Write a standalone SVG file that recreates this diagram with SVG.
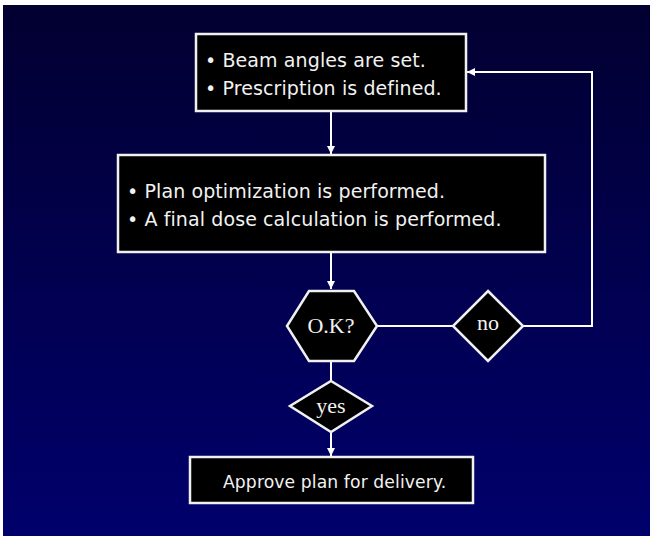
<svg xmlns="http://www.w3.org/2000/svg" width="650" height="537" viewBox="0 0 650 537">
<defs>
<linearGradient id="bg" x1="0" y1="0" x2="0" y2="1">
<stop offset="0" stop-color="#020030"/>
<stop offset="1" stop-color="#00006c"/>
</linearGradient>
<marker id="ah" viewBox="0 0 10 10" refX="10" refY="5" markerWidth="4" markerHeight="4" orient="auto" markerUnits="strokeWidth">
<path d="M0,0 L10,5 L0,10 z" fill="#ffffff"/>
</marker>
<style>
.box{fill:#000000;stroke:#f0f0f0;stroke-width:2.5}
.t{font-family:"DejaVu Sans",sans-serif;font-size:19px;letter-spacing:0.1px;fill:#f2f2f2}
.s{font-family:"Liberation Serif","Times New Roman",serif;font-size:22px;fill:#f2f2f2;text-anchor:middle}
.c{fill:none;stroke:#ffffff;stroke-width:2}
</style>
</defs>
<rect x="3" y="5" width="647" height="531" fill="url(#bg)"/>
<g id="connectors">
<path class="c" d="M331,111 V154" marker-end="url(#ah)"/>
<path class="c" d="M331,252 V289" marker-end="url(#ah)"/>
<path class="c" d="M377,326 H453"/>
<path class="c" d="M523,326 H592 V72 H467" marker-end="url(#ah)"/>
<path class="c" d="M331,361 V381"/>
<path class="c" d="M331,432 V456" marker-end="url(#ah)"/>
</g>
<g id="box1">
<rect class="box" x="196" y="34" width="270" height="77"/>
<text class="t" x="205" y="67">• Beam angles are set.</text>
<text class="t" x="205" y="95">• Prescription is defined.</text>
</g>
<g id="box2">
<rect class="box" x="118" y="155" width="427" height="97"/>
<text class="t" x="127" y="198">• Plan optimization is performed.</text>
<text class="t" x="127" y="226">• A final dose calculation is performed.</text>
</g>
<g id="ok">
<polygon class="box" points="309,291 354,291 377,326 354,361 309,361 287,326"/>
<text class="s" x="331" y="333">O.K?</text>
</g>
<g id="no">
<polygon class="box" points="488,291 523,326 488,361 453,326"/>
<text class="s" x="488" y="330">no</text>
</g>
<g id="yes">
<polygon class="box" points="331,381 372,406 331,432 290,406"/>
<text class="s" x="331" y="413">yes</text>
</g>
<g id="box3">
<rect class="box" x="190" y="457" width="283" height="46"/>
<text class="t" x="223" y="488" style="font-size:17.2px">Approve plan for delivery.</text>
</g>
</svg>
